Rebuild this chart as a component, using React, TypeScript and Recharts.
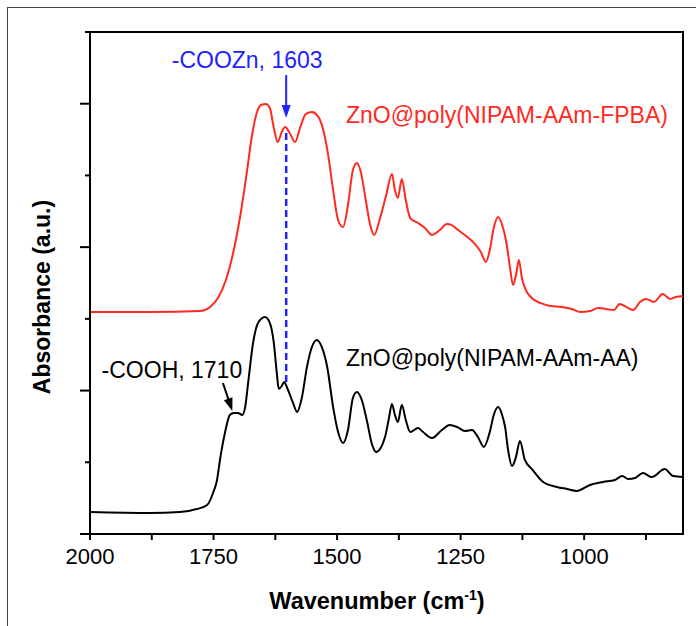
import React from 'react';
import { LineChart, Line, XAxis, YAxis, ReferenceLine, ReferenceDot, ReferenceArea } from 'recharts';

// ---- data ----
const WN_FPBA = [2000, 1879, 1777, 1757, 1741, 1725, 1709, 1694, 1682, 1672, 1662, 1654, 1644, 1636, 1628, 1620, 1612, 1605, 1597, 1585, 1575, 1563, 1551, 1539, 1529, 1518, 1508, 1498, 1488, 1478, 1468, 1460, 1452, 1442, 1433, 1425, 1413, 1401, 1389, 1383, 1377, 1369, 1361, 1352, 1336, 1322, 1308, 1292, 1278, 1268, 1255, 1239, 1223, 1209, 1199, 1191, 1183, 1174, 1166, 1156, 1150, 1144, 1138, 1132, 1126, 1118, 1106, 1089, 1069, 1045, 1025, 1008, 988, 972, 956, 940, 928, 915, 901, 887, 875, 859, 841, 826, 814, 800];
const ABS_FPBA = [1.548, 1.548, 1.555, 1.583, 1.645, 1.771, 1.98, 2.259, 2.538, 2.782, 2.942, 2.991, 2.998, 2.97, 2.831, 2.733, 2.803, 2.838, 2.803, 2.733, 2.831, 2.929, 2.942, 2.914, 2.831, 2.642, 2.398, 2.189, 2.14, 2.294, 2.538, 2.587, 2.524, 2.329, 2.154, 2.085, 2.203, 2.357, 2.51, 2.399, 2.343, 2.475, 2.329, 2.203, 2.168, 2.133, 2.085, 2.119, 2.161, 2.154, 2.119, 2.078, 2.029, 1.966, 1.897, 1.98, 2.134, 2.21, 2.154, 2.001, 1.855, 1.736, 1.806, 1.91, 1.785, 1.701, 1.645, 1.611, 1.59, 1.583, 1.569, 1.548, 1.555, 1.576, 1.569, 1.562, 1.604, 1.583, 1.562, 1.618, 1.639, 1.618, 1.673, 1.639, 1.652, 1.659];

const WN_AA = [2000, 1879, 1818, 1784, 1763, 1751, 1743, 1737, 1727, 1717, 1709, 1701, 1692, 1686, 1680, 1670, 1660, 1646, 1636, 1628, 1622, 1618, 1612, 1607, 1601, 1589, 1581, 1571, 1561, 1551, 1541, 1531, 1520, 1508, 1498, 1488, 1478, 1468, 1460, 1450, 1440, 1429, 1421, 1403, 1395, 1389, 1383, 1377, 1369, 1361, 1352, 1336, 1326, 1308, 1288, 1272, 1257, 1241, 1227, 1215, 1203, 1191, 1183, 1174, 1166, 1160, 1154, 1146, 1138, 1130, 1120, 1104, 1083, 1055, 1035, 1015, 988, 962, 938, 923, 911, 897, 881, 863, 837, 820, 800];
const ABS_AA = [0.153, 0.146, 0.153, 0.174, 0.202, 0.286, 0.376, 0.516, 0.704, 0.83, 0.844, 0.844, 0.83, 0.885, 1.053, 1.332, 1.471, 1.513, 1.471, 1.332, 1.123, 1.011, 1.032, 1.06, 1.018, 0.913, 0.851, 0.955, 1.164, 1.304, 1.353, 1.304, 1.164, 0.885, 0.711, 0.634, 0.725, 0.948, 0.99, 0.934, 0.795, 0.621, 0.572, 0.676, 0.809, 0.906, 0.83, 0.781, 0.899, 0.795, 0.711, 0.739, 0.711, 0.669, 0.725, 0.76, 0.746, 0.718, 0.725, 0.676, 0.607, 0.711, 0.83, 0.885, 0.83, 0.746, 0.586, 0.474, 0.537, 0.648, 0.516, 0.446, 0.363, 0.328, 0.314, 0.3, 0.342, 0.363, 0.376, 0.404, 0.383, 0.39, 0.425, 0.397, 0.453, 0.404, 0.397];

const X_TICKS = [2000, 1875, 1750, 1625, 1500, 1375, 1250, 1125, 1000, 875];
const X_LABELED = [2000, 1750, 1500, 1250, 1000];
const Y_TICKS = [0, 0.5, 1, 1.5, 2, 2.5, 3, 3.5];
const Y_MAJOR = [0, 1, 2, 3];

const SERIES_FPBA = 'ZnO@poly(NIPAM-AAm-FPBA)';
const SERIES_AA = 'ZnO@poly(NIPAM-AAm-AA)';
const NOTE_COOZN = '-COOZn, 1603';
const NOTE_COOH = '-COOH, 1710';

const fpbaData = WN_FPBA.map((w, i) => ({ w, a: ABS_FPBA[i] }));
const aaData = WN_AA.map((w, i) => ({ w, a: ABS_AA[i] }));

const FONT = '"Liberation Sans", Arial, Helvetica, sans-serif';
const RED = '#ff2a1f';
const BLUE = '#2222ff';

const XTick = (props: any) => {
  const { x, y, payload } = props;
  const labeled = X_LABELED.includes(payload.value);
  return (
    <g>
      <line x1={x} x2={x} y1={y} y2={y + 6} stroke="#000" strokeWidth={2} />
      {labeled && (
        <text x={x} y={y + 30} textAnchor="middle" fontSize={22} fontFamily={FONT} fill="#000">
          {payload.value}
        </text>
      )}
    </g>
  );
};

const YTick = (props: any) => {
  const { x, y, payload } = props;
  const len = Y_MAJOR.includes(payload.value) ? 10 : 5;
  return <line x1={x - len} x2={x} y1={y} y2={y} stroke="#000" strokeWidth={2} />;
};

const arrowShape = (color: string, width: number) => (p: any) => {
  const { x1, y1, x2, y2 } = p;
  const dx = x2 - x1;
  const dy = y2 - y1;
  const L = Math.sqrt(dx * dx + dy * dy) || 1;
  const ux = dx / L;
  const uy = dy / L;
  const head = 13;
  const hw = 4.5;
  const bx = x2 - ux * head;
  const by = y2 - uy * head;
  const pts = `${x2},${y2} ${bx - uy * hw},${by + ux * hw} ${bx + uy * hw},${by - ux * hw}`;
  return (
    <g>
      <line x1={x1} y1={y1} x2={bx + ux * 2} y2={by + uy * 2} stroke={color} strokeWidth={width} />
      <polygon points={pts} fill={color} />
    </g>
  );
};

const textShape = (txt: string, color: string, anchor: 'start' | 'middle' | 'end', size: number) => (p: any) => (
  <text
    x={p.cx}
    y={p.cy}
    textAnchor={anchor}
    dominantBaseline="central"
    fontSize={size}
    fontFamily={FONT}
    fill={color}
  >
    {txt}
  </text>
);

const XTitle = () => (
  <text
    x={377}
    y={609}
    textAnchor="middle"
    fontSize={23.5}
    fontWeight="bold"
    fontFamily={FONT}
    fill="#000"
  >
    <tspan>Wavenumber (cm</tspan>
    <tspan dy={-9} fontSize={14}>-1</tspan>
    <tspan dy={9}>)</tspan>
  </text>
);

const YTitle = () => (
  <text
    x={42}
    y={297}
    transform="rotate(-90 42 297)"
    textAnchor="middle"
    dominantBaseline="central"
    fontSize={23}
    fontWeight="bold"
    fontFamily={FONT}
    fill="#000"
  >
    Absorbance (a.u.)
  </text>
);

export default function App() {
  return (
    <div
      style={{
        position: 'fixed',
        left: 0,
        top: 0,
        width: 696,
        height: 626,
        overflow: 'hidden',
        background: '#fff',
      }}
    >
      <div
        style={{
          position: 'absolute',
          left: 7,
          top: 7,
          width: 800,
          height: 800,
          borderLeft: '1px solid #444',
          borderTop: '1px solid #444',
        }}
      />
      <div style={{ position: 'absolute', left: 0, top: 0 }}>
        <LineChart
          width={696}
          height={626}
          margin={{ top: 32, right: 13, bottom: 32, left: 70 }}
          style={{ fontFamily: FONT }}
        >
          <XAxis
            dataKey="w"
            type="number"
            domain={[800, 2000]}
            reversed
            allowDataOverflow
            ticks={X_TICKS}
            interval={0}
            tickSize={0}
            tickMargin={0}
            tickLine={false}
            axisLine={{ stroke: '#000', strokeWidth: 2 }}
            tick={(p: any) => <XTick {...p} />}
            height={60}
          />
          <YAxis
            type="number"
            domain={[0, 3.5]}
            ticks={Y_TICKS}
            interval={0}
            tickSize={0}
            tickMargin={0}
            tickLine={false}
            axisLine={{ stroke: '#000', strokeWidth: 2 }}
            tick={(p: any) => <YTick {...p} />}
            width={20}
            allowDataOverflow
          />
          <ReferenceArea
            x1={2000}
            x2={800}
            y1={0}
            y2={3.5}
            fill="none"
            fillOpacity={0}
            stroke="#000"
            strokeWidth={2}
            ifOverflow="visible"
          />
          <Line
            data={aaData}
            dataKey="a"
            type="monotone"
            stroke="#000"
            strokeWidth={2}
            dot={false}
            isAnimationActive={false}
          />
          <Line
            data={fpbaData}
            dataKey="a"
            type="monotone"
            stroke={RED}
            strokeWidth={2}
            dot={false}
            isAnimationActive={false}
          />
          <ReferenceLine
            segment={[{ x: 1603, y: 2.796 }, { x: 1603, y: 1.06 }]}
            stroke={BLUE}
            strokeWidth={2.5}
            strokeDasharray="7 4"
            ifOverflow="visible"
          />
          <ReferenceLine
            segment={[{ x: 1603, y: 3.2 }, { x: 1603, y: 2.9 }]}
            shape={arrowShape(BLUE, 2)}
            ifOverflow="visible"
          />
          <ReferenceLine
            segment={[{ x: 1731, y: 1.053 }, { x: 1712, y: 0.857 }]}
            shape={arrowShape('#000', 2)}
            ifOverflow="visible"
          />
          <ReferenceDot x={1682} y={3.305} r={0} ifOverflow="visible" shape={textShape(NOTE_COOZN, BLUE, 'middle', 23)} />
          <ReferenceDot x={1482} y={2.921} r={0} ifOverflow="visible" shape={textShape(SERIES_FPBA, RED, 'start', 23)} />
          <ReferenceDot x={1482} y={1.227} r={0} ifOverflow="visible" shape={textShape(SERIES_AA, '#000', 'start', 23)} />
          <ReferenceDot x={1692} y={1.143} r={0} ifOverflow="visible" shape={textShape(NOTE_COOH, '#000', 'end', 23)} />
        </LineChart>
      </div>
      <svg
        width={696}
        height={626}
        style={{ position: 'absolute', left: 0, top: 0, pointerEvents: 'none' }}
      >
        <YTitle />
        <XTitle />
      </svg>
    </div>
  );
}
